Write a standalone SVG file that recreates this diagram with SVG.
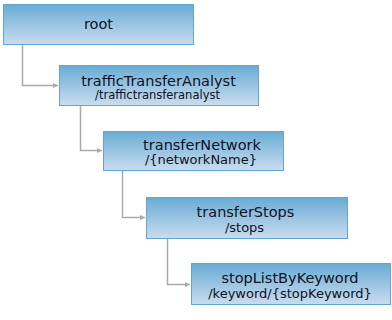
<svg xmlns="http://www.w3.org/2000/svg" width="392" height="320" viewBox="0 0 392 320">
<style>
.box{fill:url(#g);stroke:#62a6d3;stroke-width:1}
.t{font-family:"DejaVu Sans",Verdana,sans-serif;font-size:14.5px;fill:#111122;text-anchor:middle}
.s{font-family:"DejaVu Sans",Verdana,sans-serif;font-size:13px;fill:#111122;text-anchor:middle}
.c{fill:none;stroke:#aaaaaa;stroke-width:1.5}
</style>
<defs>
<linearGradient id="g" x1="0" y1="0" x2="0" y2="1">
<stop offset="0" stop-color="#69acd5"/>
<stop offset="1" stop-color="#cadcef"/>
</linearGradient>
<marker id="a" viewBox="0 0 8 8" refX="8" refY="4" markerWidth="5" markerHeight="5" markerUnits="userSpaceOnUse" orient="auto">
<path d="M0,0 L8,4 L0,8 z" fill="#aaaaaa"/>
</marker>
</defs>
<rect width="392" height="320" fill="#ffffff"/>
<g id="connectors">
<path class="c" d="M22.5,44 V85.5 H58" marker-end="url(#a)"/>
<path class="c" d="M80.5,106 V150.5 H102" marker-end="url(#a)"/>
<path class="c" d="M122.5,171 V217.5 H145" marker-end="url(#a)"/>
<path class="c" d="M167.5,239 V284.5 H190" marker-end="url(#a)"/>
</g>
<g id="root">
<rect class="box" x="3.5" y="4.5" width="190" height="40"/>
<text class="t" x="98.5" y="29">root</text>
</g>
<g id="trafficTransferAnalyst">
<rect class="box" x="59.5" y="65.5" width="199" height="40"/>
<text class="t" x="158.5" y="86">trafficTransferAnalyst</text>
<text class="s" x="157.5" y="99" style="font-size:11.5px">/traffictransferanalyst</text>
</g>
<g id="transferNetwork">
<rect class="box" x="103.5" y="131.5" width="180" height="39"/>
<text class="t" x="202" y="150">transferNetwork</text>
<text class="s" x="201" y="164">/{networkName}</text>
</g>
<g id="transferStops">
<rect class="box" x="146.5" y="197.5" width="201" height="41"/>
<text class="t" x="245.5" y="217">transferStops</text>
<text class="s" x="244.5" y="232">/stops</text>
</g>
<g id="stopListByKeyword">
<rect class="box" x="191.5" y="263.5" width="199" height="41"/>
<text class="t" x="290" y="283">stopListByKeyword</text>
<text class="s" x="290" y="298">/keyword/{stopKeyword}</text>
</g>
</svg>
